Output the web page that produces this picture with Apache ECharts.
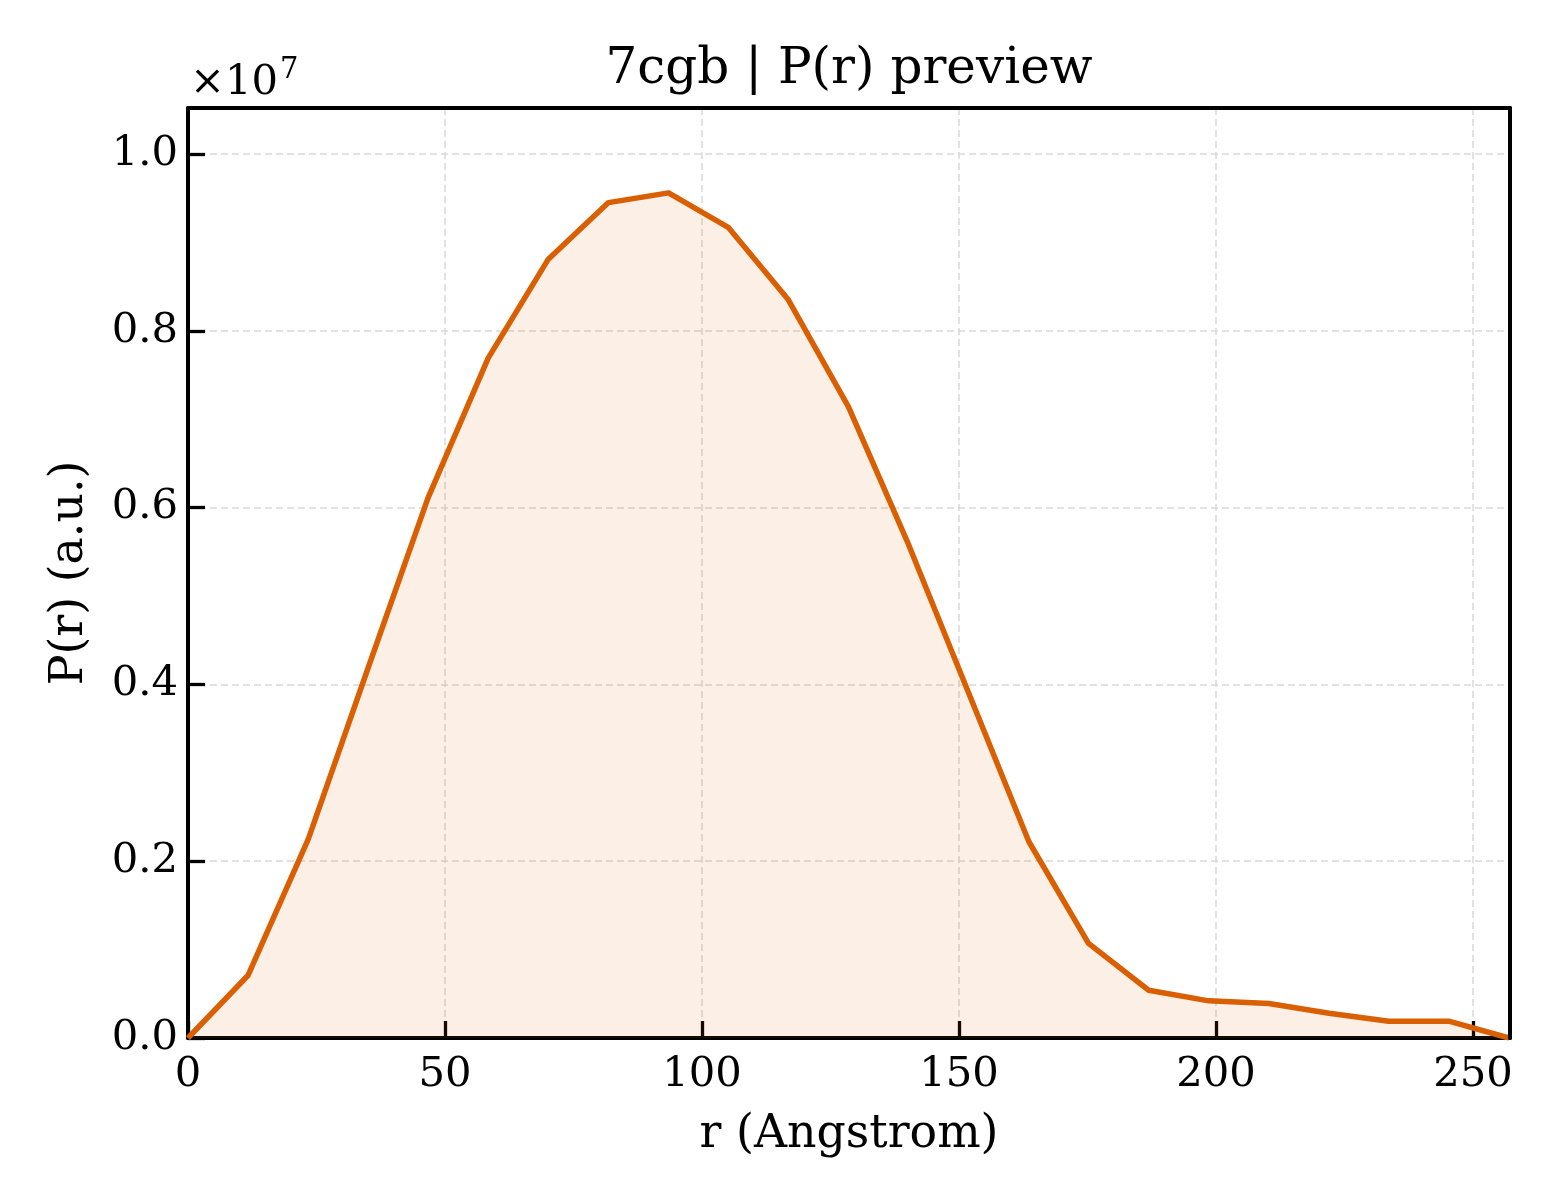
<!DOCTYPE html>
<html>
<head>
<meta charset="utf-8">
<script src="https://cdn.jsdelivr.net/npm/echarts@6/dist/echarts.min.js"></script>
<style>
html,body{margin:0;padding:0;background:#fff;}
#chart{width:1560px;height:1200px;}
</style>
</head>
<body>
<div id="chart"></div>
<script>
// r in Angstrom
const rValues = [0, 11.7, 23.4, 35.0, 46.7, 58.4, 70.1, 81.8, 93.5, 105.1, 116.8, 128.5,
  140.2, 151.9, 163.6, 175.2, 186.9, 198.6, 210.3, 222.0, 233.6, 245.3, 257.0];
// P(r) in a.u.
const prValues = [0, 0.071e7, 0.225e7, 0.418e7, 0.611e7, 0.769e7, 0.881e7, 0.945e7, 0.956e7,
  0.917e7, 0.835e7, 0.714e7, 0.558e7, 0.39e7, 0.222e7, 0.107e7, 0.054e7, 0.042e7, 0.039e7,
  0.028e7, 0.019e7, 0.019e7, 0];
const xTicks = [0, 50, 100, 150, 200, 250];
const yTickLabels = ['0.0', '0.2', '0.4', '0.6', '0.8', '1.0'];
const titleText = '7cgb | P(r) preview';
const xName = 'r (Angstrom)';
const yName = 'P(r) (a.u.)';

const FONT = 'DejaVu Serif';
const data = rValues.map((r, i) => [r, prValues[i]]);
const X_MAX = 257.2, Y_MAX = 1.052e7;

const chart = echarts.init(document.getElementById('chart'), null, {renderer: 'canvas'});
const gridL = 188, gridR = 50, gridT = 108, gridB = 162;
const spine = {show: true, onZero: false, lineStyle: {color: '#000', width: 4}};
const gridLine = {show: true, lineStyle: {color: '#d9d9d9', width: 1.5, type: [7, 4]}};
chart.setOption({
  backgroundColor: '#ffffff',
  animation: false,
  grid: {left: gridL, right: gridR, top: gridT, bottom: gridB, show: false},
  graphic: [
    {type: 'text', x: (gridL + 1560 - gridR) / 2, y: 70, z: 10,
     style: {text: titleText, font: '50px "' + FONT + '"', fill: '#000', align: 'center', verticalAlign: 'middle'}},
    {type: 'text', x: 190, y: 83, z: 10,
     style: {text: '\u00d710', font: '41.7px "' + FONT + '"', fill: '#000', align: 'left', verticalAlign: 'middle'}},
    {type: 'text', x: 280, y: 70, z: 10,
     style: {text: '7', font: '29px "' + FONT + '"', fill: '#000', align: 'left', verticalAlign: 'middle'}}
  ],
  xAxis: [{
    type: 'value', min: 0, max: X_MAX, interval: 50, position: 'bottom',
    name: xName, nameLocation: 'middle', nameGap: 74,
    nameTextStyle: {fontFamily: FONT, fontSize: 45.8, color: '#000'},
    axisLine: spine,
    axisTick: {show: true, inside: true, length: 17, lineStyle: {color: '#000', width: 3.3}},
    axisLabel: {show: true, margin: 16, fontFamily: FONT, fontSize: 41.7, color: '#000',
      showMaxLabel: false,
      formatter: v => (xTicks.indexOf(v) >= 0 ? String(v) : '')},
    splitLine: gridLine
  }, {
    type: 'value', min: 0, max: X_MAX, position: 'top', z: 5,
    axisLine: spine, axisTick: {show: false}, axisLabel: {show: false}, splitLine: {show: false}
  }],
  yAxis: [{
    type: 'value', min: 0, max: Y_MAX, interval: 0.2e7, position: 'left',
    name: yName, nameLocation: 'middle', nameGap: 95, nameRotate: 90,
    nameTextStyle: {fontFamily: FONT, fontSize: 45.8, color: '#000'},
    axisLine: spine,
    axisTick: {show: true, inside: true, length: 17, lineStyle: {color: '#000', width: 3.3}},
    axisLabel: {show: true, margin: 10, fontFamily: FONT, fontSize: 41.7, color: '#000',
      showMaxLabel: false,
      formatter: v => {
        const idx = Math.round(v / 0.2e7);
        return (Math.abs(v - idx * 0.2e7) < 1 && yTickLabels[idx]) ? yTickLabels[idx] : '';
      }},
    splitLine: gridLine
  }, {
    type: 'value', min: 0, max: Y_MAX, position: 'right', z: 5,
    axisLine: spine, axisTick: {show: false}, axisLabel: {show: false}, splitLine: {show: false}
  }],
  series: [{
    type: 'line', data: data, xAxisIndex: 0, yAxisIndex: 0,
    symbol: 'none', smooth: false, clip: true,
    lineStyle: {color: '#D95F02', width: 5.5, join: 'round'},
    areaStyle: {color: 'rgba(217,95,2,0.14)', origin: 'start'},
    z: 3
  }]
});
</script>
</body>
</html>
